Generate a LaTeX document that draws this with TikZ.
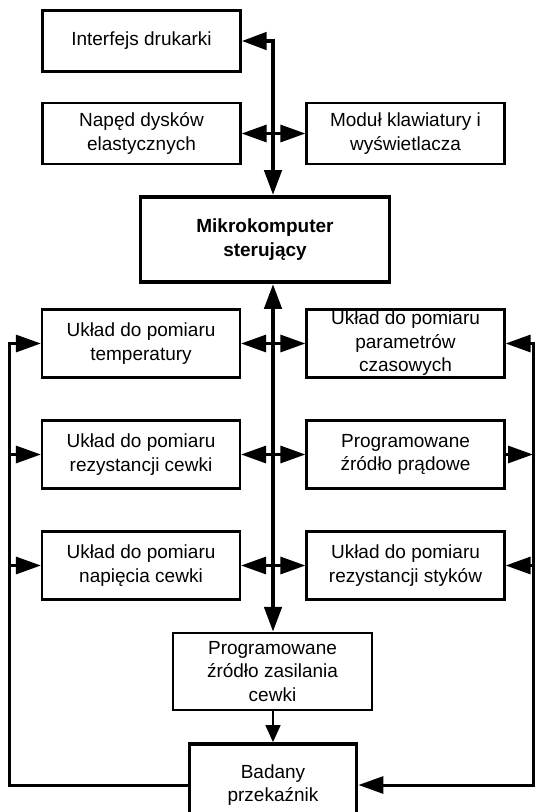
\documentclass[tikz,border=0pt]{standalone}
\usepackage{fontspec}
\setmainfont{Liberation Sans}
\usetikzlibrary{arrows.meta}
\begin{document}
\begin{tikzpicture}[x=1pt,y=-1pt,
  txt/.style={font=\fontsize{19}{23.5}\selectfont},
  box/.style={draw, line width=2.2pt, align=center, inner sep=0pt, txt,
    minimum width=198pt, minimum height=61pt},
  rowbox/.style={box, minimum height=68pt},
  thickbox/.style={draw, line width=3.8pt, align=center, inner sep=0pt, txt},
  bigtip/.tip={Triangle[length=25pt,width=17pt]},
  smalltip/.tip={Triangle[length=17pt,width=15pt]},
  busline/.style={line width=4.5pt},
  harrow/.style={line width=3pt},
  fb/.style={line width=3pt},
  thinline/.style={line width=1.6pt}]
\useasboundingbox (0,0) rectangle (535,812);

% nodes
\node[box] (int) at (141.5,41) {Interfejs drukarki};
\node[box] (nap) at (141.5,133.5) {Napęd dysków\\elastycznych};
\node[box] (mod) at (405.5,133.5) {Moduł klawiatury i\\wyświetlacza};
\node[thickbox, minimum width=249pt, minimum height=85pt] (mik) at (265,239.5)
  {\bfseries Mikrokomputer\\\bfseries sterujący};

\node[rowbox] (l1) at (141,343.5) {Układ do pomiaru\\temperatury};
\node[rowbox] (r1) at (405.5,343.5) {Układ do pomiaru\\parametrów\\czasowych};
\node[rowbox] (l2) at (141,454.5) {Układ do pomiaru\\rezystancji cewki};
\node[rowbox] (r2) at (405.5,454.5) {Programowane\\źródło prądowe};
\node[rowbox] (l3) at (141,565.5) {Układ do pomiaru\\napięcia cewki};
\node[rowbox] (r3) at (405.5,565.5) {Układ do pomiaru\\rezystancji styków};

\node[box, minimum width=199pt, minimum height=77pt] (prog) at (272.5,671.5)
  {Programowane\\źródło zasilania\\cewki};
\node[thickbox, minimum width=167pt, minimum height=82pt] (bad) at (273,785)
  {Badany\\przekaźnik};

% guide coordinates
\coordinate (bx) at (273,0);
\coordinate (lx) at (9,0);
\coordinate (rx) at (533,0);

% upper bus
\draw[busline, {bigtip}-{bigtip}] (int.east) -- (bx |- int.east) -- (bx |- mik.north);
\draw[harrow, -{bigtip}] (bx |- nap.east) -- (nap.east);
\draw[harrow, -{bigtip}] (bx |- mod.west) -- (mod.west);

% lower bus
\draw[busline, {bigtip}-{bigtip}] (bx |- mik.south) -- (bx |- prog.north);
\draw[harrow, -{bigtip}] (bx |- l1.east) -- (l1.east);
\draw[harrow, -{bigtip}] (bx |- r1.west) -- (r1.west);
\draw[harrow, -{bigtip}] (bx |- l2.east) -- (l2.east);
\draw[harrow, -{bigtip}] (bx |- r2.west) -- (r2.west);
\draw[harrow, -{bigtip}] (bx |- l3.east) -- (l3.east);
\draw[harrow, -{bigtip}] (bx |- r3.west) -- (r3.west);

% power to relay
\draw[thinline, -{smalltip}] (bx |- prog.south) -- (bx |- bad.north);

% left feedback
\draw[fb, -{bigtip}] (bad.west) -- (lx |- bad.west) -- (lx |- l1.west) -- (l1.west);
\draw[fb, -{bigtip}] (lx |- l2.west) -- (l2.west);
\draw[fb, -{bigtip}] (lx |- l3.west) -- (l3.west);

% right feedback
\draw[fb, {bigtip}-{bigtip}] (r1.east) -- (rx |- r1.east) -- (rx |- bad.east) -- (bad.east);
\draw[fb, -{bigtip}] (r2.east) -- (rx |- r2.east);
\draw[fb, -{bigtip}] (rx |- r3.east) -- (r3.east);
\end{tikzpicture}
\end{document}
